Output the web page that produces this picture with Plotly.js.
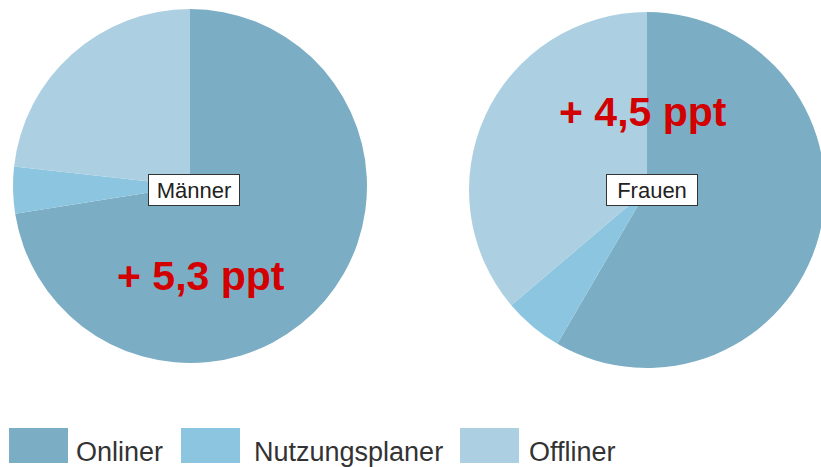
<!DOCTYPE html>
<html>
<head>
<meta charset="utf-8">
<script src="https://cdn.plot.ly/plotly-3.0.1.min.js"></script>
<style>
html,body{margin:0;padding:0;overflow:hidden;background:#fff;}
#chart{width:840px;height:467px;}
</style>
</head>
<body>
<div id="chart"></div>
<script>
// Data
var categories = ["Onliner", "Nutzungsplaner", "Offliner"];
var maennerValues = [72.5, 4.25, 23.25];
var frauenValues = [58.4, 5.4, 36.2];
var groupNames = ["Männer", "Frauen"];
var deltaLabels = ["+ 5,3 ppt", "+ 4,5 ppt"];

var colors = ["#7badc4", "#8cc5df", "#acd0e1"];
var W = 840, H = 467;
function px(x){ return x / W; }
function py(y){ return 1 - y / H; }

function pie(values, name, cx, cy, r){
  return {
    type: "pie",
    values: values,
    labels: categories,
    name: name,
    sort: false,
    direction: "clockwise",
    rotation: 0,
    textinfo: "none",
    hoverinfo: "label+percent",
    showlegend: false,
    marker: {colors: colors, line: {width: 0}},
    domain: {x: [px(cx - r), px(cx + r)], y: [py(cy + r), py(cy - r)]}
  };
}

var data = [
  pie(maennerValues, groupNames[0], 190, 186, 177),
  pie(frauenValues, groupNames[1], 647, 190, 178)
];

var annotations = [];
var shapes = [];
// group labels in boxes
[[groupNames[0], 194, 190], [groupNames[1], 652, 190]].forEach(function(g){
  annotations.push({
    text: g[0], x: px(g[1]), y: py(g[2]), xref: "paper", yref: "paper",
    xanchor: "center", yanchor: "middle", showarrow: false,
    font: {family: "Liberation Sans, Arial, sans-serif", size: 22, color: "#222"},
    bgcolor: "#ffffff", bordercolor: "#333333", borderwidth: 1, borderpad: 1,
    width: 88, height: 28
  });
});
// red deltas
[[deltaLabels[0], 201, 276], [deltaLabels[1], 643, 112]].forEach(function(d){
  annotations.push({
    text: "<b>" + d[0] + "</b>", x: px(d[1]), y: py(d[2]), xref: "paper", yref: "paper",
    xanchor: "center", yanchor: "middle", showarrow: false,
    font: {family: "Liberation Sans, Arial, sans-serif", size: 41, color: "#d20000"}
  });
});
// legend (custom, large swatches)
var legendSq = [9, 181, 460];
var legendTx = [74, 252, 527];
categories.forEach(function(c, i){
  shapes.push({
    type: "rect", xref: "paper", yref: "paper",
    x0: px(legendSq[i]), x1: px(legendSq[i] + 59), y0: py(463), y1: py(428),
    fillcolor: colors[i], line: {width: 0}
  });
  annotations.push({
    text: c, x: px(legendTx[i]), y: py(452), xref: "paper", yref: "paper",
    xanchor: "left", yanchor: "middle", showarrow: false,
    font: {family: "Liberation Sans, Arial, sans-serif", size: 27, color: "#333"}
  });
});

var layout = {
  width: W, height: H,
  margin: {l: 0, r: 0, t: 0, b: 0},
  paper_bgcolor: "#ffffff",
  showlegend: false,
  annotations: annotations,
  shapes: shapes
};
Plotly.newPlot("chart", data, layout, {displayModeBar: false, staticPlot: true});
</script>
</body>
</html>
